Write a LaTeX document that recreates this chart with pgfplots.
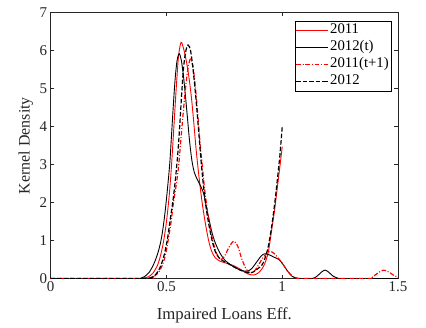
\documentclass[border=0pt]{standalone}
\usepackage{pgfplots}
\pgfplotsset{compat=1.18}
\usepackage{fontspec}
\setmainfont{Liberation Serif}

\begin{document}
\begin{tikzpicture}
\begin{axis}[
  scale only axis, width=347bp, height=265.6bp,
  xmin=0, xmax=1.5, ymin=0, ymax=7,
  xtick={0,0.5,1,1.5}, ytick={0,1,2,3,4,5,6,7},
  tick align=inside, major tick length=3.5bp,
  tick style={black!85, line width=0.5pt},
  axis line style={black!85, line width=0.6pt},
  /pgf/number format/assume math mode=true,
  tick label style={font=\fontsize{15}{17}\selectfont, text=black!85},
  xlabel={Impaired Loans Eff.}, ylabel={Kernel Density},
  every axis x label/.style={at={(axis description cs:0.5,-0.139)}, anchor=center,
    font=\fontsize{16.8}{18}\selectfont, text=black!85},
  every axis y label/.style={at={(axis description cs:-0.072,0.5)}, anchor=center, rotate=90,
    font=\fontsize{16}{18}\selectfont, text=black!85},
  legend style={at={(axis description cs:0.980,0.9706)}, anchor=north east,
    draw=black, fill=white,
    font=\fontsize{14.8}{17}\selectfont, inner sep=1bp,
    nodes={inner sep=1.1bp, text height=11bp, text depth=3.8bp}},
  legend cell align=left,
  legend image code/.code={\draw[mark repeat=2,mark phase=2,#1]
    plot coordinates {(0bp,0bp) (16bp,0bp) (32bp,0bp)};},
]
% 2011
\addplot[red, line width=0.9pt, smooth, tension=0.5] coordinates {
(0,0) (0.38,0) (0.40,0.01) (0.42,0.04) (0.44,0.13) (0.46,0.33) (0.475,0.62)
(0.488,1.0) (0.50,1.5) (0.512,2.2) (0.522,3.0) (0.532,4.0) (0.542,5.0)
(0.552,5.85) (0.563,6.22) (0.574,6.05) (0.585,5.75) (0.597,5.3) (0.608,4.75)
(0.618,4.1) (0.628,3.4) (0.64,2.7) (0.654,2.0) (0.668,1.45) (0.682,1.0)
(0.695,0.72) (0.71,0.55) (0.73,0.46) (0.76,0.40) (0.79,0.34) (0.82,0.24)
(0.848,0.13) (0.875,0.09) (0.895,0.14) (0.912,0.25) (0.925,0.4) (0.94,0.7)
(0.955,1.3) (0.967,1.8) (0.978,2.35) (0.99,2.95) (1.0,3.47)};
\addlegendentry{2011}
% 2012(t)
\addplot[black, line width=0.9pt, smooth, tension=0.5] coordinates {
(0,0) (0.37,0) (0.39,0.01) (0.405,0.05) (0.425,0.16) (0.445,0.38) (0.46,0.62)
(0.472,0.88) (0.482,1.2) (0.492,1.65) (0.50,2.1) (0.508,2.6) (0.515,3.1)
(0.522,3.8) (0.53,4.6) (0.538,5.3) (0.546,5.75) (0.555,5.92) (0.564,5.75)
(0.573,5.35) (0.582,4.8) (0.591,4.2) (0.60,3.6) (0.61,3.1) (0.62,2.8)
(0.632,2.62) (0.646,2.45) (0.66,2.25) (0.672,1.9) (0.684,1.55) (0.697,1.2)
(0.71,0.95) (0.73,0.68) (0.75,0.5) (0.77,0.39) (0.795,0.29) (0.82,0.22)
(0.848,0.19) (0.868,0.26) (0.888,0.42) (0.91,0.6) (0.925,0.65) (0.945,0.62)
(0.965,0.56) (0.985,0.5) (1.0,0.4) (1.02,0.22) (1.04,0.07) (1.06,0.01)
(1.08,0) (1.13,0) (1.15,0.06) (1.17,0.17) (1.185,0.22) (1.20,0.17)
(1.22,0.06) (1.24,0.01) (1.26,0) (1.5,0)};
\addlegendentry{2012(t)}
% 2011(t+1)
\addplot[red, line width=1.2pt, smooth, tension=0.5,
  dash pattern=on 4.5pt off 1.8pt on 1pt off 1.8pt] coordinates {
(0,0) (0.41,0) (0.43,0.02) (0.45,0.07) (0.47,0.2) (0.485,0.4) (0.497,0.66)
(0.507,1.0) (0.52,1.5) (0.53,2.0) (0.543,2.5) (0.553,3.0) (0.56,3.5)
(0.567,4.0) (0.575,4.55) (0.582,5.0) (0.592,5.5) (0.603,5.78) (0.614,5.6)
(0.622,5.2) (0.63,4.7) (0.638,4.1) (0.646,3.5) (0.654,3.0) (0.663,2.45)
(0.672,2.0) (0.685,1.45) (0.70,1.0) (0.715,0.68) (0.733,0.5) (0.75,0.58)
(0.77,0.82) (0.79,0.98) (0.808,0.85) (0.825,0.52) (0.845,0.24) (0.862,0.15)
(0.88,0.2) (0.9,0.38) (0.92,0.58) (0.945,0.71) (0.965,0.66) (0.985,0.52)
(1.005,0.36) (1.025,0.18) (1.045,0.06) (1.065,0.01) (1.09,0) (1.37,0)
(1.39,0.04) (1.41,0.13) (1.437,0.22) (1.46,0.17) (1.48,0.09) (1.5,0.03)};
\addlegendentry{2011(t+1)}
% 2012
\addplot[black, line width=1.2pt, smooth, tension=0.5,
  dash pattern=on 4.5pt off 2pt] coordinates {
(0,0) (0.41,0) (0.43,0.02) (0.445,0.05) (0.465,0.2) (0.478,0.38) (0.49,0.62)
(0.503,1.0) (0.515,1.5) (0.529,2.1) (0.54,2.7) (0.549,3.3) (0.557,4.0)
(0.565,4.8) (0.573,5.5) (0.582,5.95) (0.593,6.15) (0.604,6.0) (0.614,5.55)
(0.624,4.95) (0.632,4.4) (0.64,3.8) (0.648,3.2) (0.657,2.6) (0.668,2.0)
(0.682,1.45) (0.697,1.0) (0.71,0.72) (0.725,0.56) (0.745,0.46) (0.77,0.38)
(0.805,0.26) (0.83,0.19) (0.855,0.15) (0.875,0.17) (0.895,0.26) (0.912,0.35)
(0.925,0.52) (0.94,0.85) (0.955,1.4) (0.967,1.95) (0.978,2.55) (0.99,3.25)
(1.0,4.0)};
\addlegendentry{2012}
\end{axis}
\pgfresetboundingbox
\path ([shift={(-50.7bp,-48.7bp)}]current axis.south west)
  rectangle ([shift={(28bp,12.7bp)}]current axis.north east);
\end{tikzpicture}
\end{document}
